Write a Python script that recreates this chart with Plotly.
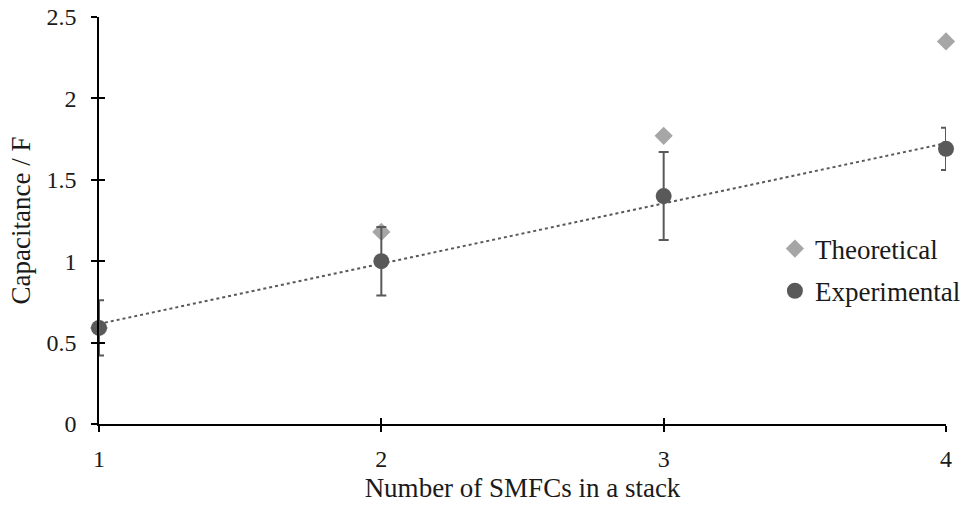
import numpy as np
import plotly.graph_objects as go

n_smfc = [1, 2, 3, 4]
theoretical = [0.59, 1.18, 1.77, 2.35]
experimental = [0.59, 1.00, 1.40, 1.69]
exp_err = [0.17, 0.21, 0.27, 0.13]
x_ticks = [1, 2, 3, 4]
y_ticks = [0, 0.5, 1, 1.5, 2, 2.5]
y_ticklabels = ["0", "0.5", "1", "1.5", "2", "2.5"]

slope, intercept = np.polyfit(n_smfc, experimental, 1)
trend_x = [min(n_smfc), max(n_smfc)]
trend_y = [slope * v + intercept for v in trend_x]

FONT = "Liberation Serif"
TXT = "#1a1a1a"

fig = go.Figure()
fig.add_trace(go.Scatter(
    x=trend_x, y=trend_y, mode="lines",
    line=dict(color="#595959", width=2, dash="dot"),
    showlegend=False, hoverinfo="skip"))
fig.add_trace(go.Scatter(
    x=n_smfc, y=theoretical, mode="markers", name="Theoretical",
    legendgroup="t",
    marker=dict(symbol="diamond", color="#A6A6A6", size=14),
    cliponaxis=False))
fig.add_trace(go.Scatter(
    x=n_smfc, y=experimental, mode="markers", name="Experimental",
    legendgroup="e",
    marker=dict(symbol="circle", color="#595959", size=16),
    error_y=dict(type="data", array=exp_err, visible=True,
                 color="#595959", thickness=2, width=5),
    cliponaxis=False))
# dummy trace for the overlay axes (inside ticks -> crossing ticks)
fig.add_trace(go.Scatter(x=[1], y=[0], xaxis="x2", yaxis="y2", mode="markers",
                         marker=dict(opacity=0), showlegend=False, hoverinfo="skip"))

axis_common = dict(showgrid=False, zeroline=False, showline=True,
                   linecolor="black", linewidth=1.5, tickcolor="black",
                   tickwidth=1.5, ticklen=6,
                   tickfont=dict(family=FONT, size=24, color=TXT))

fig.update_layout(
    width=963, height=510,
    margin=dict(l=99, r=17, t=17, b=86, autoexpand=False),
    paper_bgcolor="white", plot_bgcolor="white",
    font=dict(family=FONT, size=24, color=TXT),
    xaxis=dict(range=[1, 4], tickmode="array", tickvals=x_ticks, ticks="outside",
               ticklabelstandoff=6,
               title=dict(text="Number of SMFCs in a stack", standoff=8,
                          font=dict(family=FONT, size=27, color=TXT)),
               **axis_common),
    yaxis=dict(range=[0, 2.5], tickmode="array", tickvals=y_ticks,
               ticktext=y_ticklabels, ticks="outside", ticklabelstandoff=10,
               title=dict(text="Capacitance / F", standoff=8,
                          font=dict(family=FONT, size=27, color=TXT)),
               **axis_common),
    xaxis2=dict(range=[1, 4], overlaying="x", tickmode="array", tickvals=x_ticks,
                ticks="inside", showticklabels=False, side="bottom",
                showgrid=False, zeroline=False, showline=False,
                tickcolor="black", tickwidth=1.5, ticklen=6),
    yaxis2=dict(range=[0, 2.5], overlaying="y", tickmode="array", tickvals=y_ticks,
                ticks="inside", showticklabels=False, side="left",
                showgrid=False, zeroline=False, showline=False,
                tickcolor="black", tickwidth=1.5, ticklen=6),
    legend=dict(x=0.798, y=0.49, xanchor="left", yanchor="top",
                bgcolor="rgba(0,0,0,0)", font=dict(family=FONT, size=27, color=TXT),
                tracegroupgap=4, itemsizing="trace"),
)
fig.write_html("out.html")
